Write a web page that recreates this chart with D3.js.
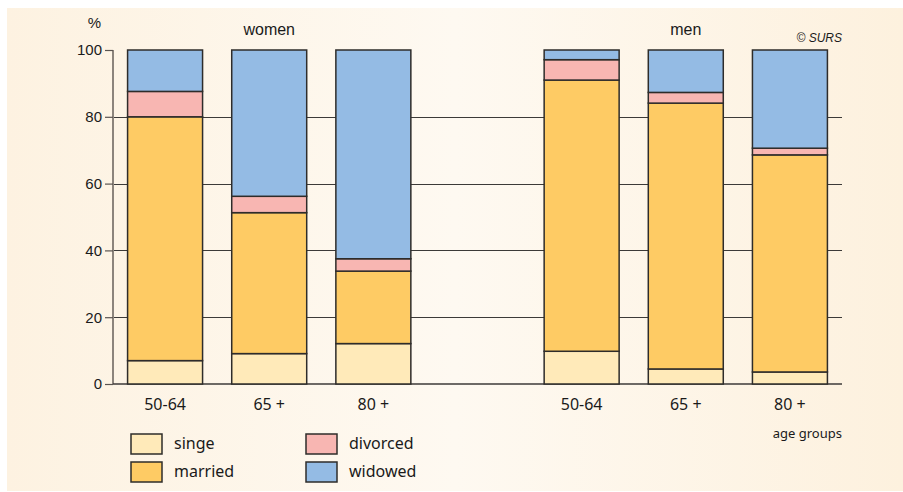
<!DOCTYPE html>
<html>
<head>
<meta charset="utf-8">
<script src="https://cdn.jsdelivr.net/npm/d3@7"></script>
<style>
  body { margin: 0; background: #fff; }
  svg { display: block; }
</style>
</head>
<body>
<svg id="chart"></svg>
<script>
// values, women then men
var groups = ["women", "men"];
var ageGroups = ["50-64", "65 +", "80 +"];
var statuses = ["singe", "married", "divorced", "widowed"];
var singe    = [7.0, 9.1, 12.1, 9.8, 4.5, 3.6];
var married  = [73.0, 42.2, 21.7, 81.2, 79.6, 65.0];
var divorced = [7.6, 4.9, 3.7, 6.1, 3.2, 2.0];
var widowed  = [12.4, 43.8, 62.5, 2.9, 12.7, 29.4];
var yTicks = [0, 20, 40, 60, 80, 100];

var colors = {
    singe: "#ffeab9",
    married: "#fecb64",
    divorced: "#f8b6b2",
    widowed: "#94bbe4"
};

var width = 903,
    height = 492;

var svg = d3.select("#chart")
    .attr("width", width)
    .attr("height", height);

var grad = svg.append("defs").append("linearGradient")
    .attr("id", "bg")
    .attr("x1", "0%").attr("x2", "100%");
grad.append("stop").attr("offset", "0%").attr("stop-color", "#fdf2e1");
grad.append("stop").attr("offset", "50%").attr("stop-color", "#fef9f1");
grad.append("stop").attr("offset", "100%").attr("stop-color", "#fdf1de");

svg.append("rect")
    .attr("x", 7).attr("y", 8)
    .attr("width", width - 7).attr("height", 483)
    .style("fill", "url(#bg)");

// one empty slot between the women and the men
var slots = [];
groups.forEach(function (g, gi) {
    if (gi > 0) slots.push("gap");
    ageGroups.forEach(function (a) { slots.push(g + "|" + a); });
});

var x = d3.scaleBand()
    .domain(slots)
    .range([113, 842])
    .paddingInner(0.28)
    .paddingOuter(0.14);

var y = d3.scaleLinear()
    .domain([0, 100])
    .range([384, 50]);

var rows = [];
groups.forEach(function (g, gi) {
    ageGroups.forEach(function (a, ai) {
        var i = gi * ageGroups.length + ai;
        rows.push({key: g + "|" + a, age: a, singe: singe[i], married: married[i], divorced: divorced[i], widowed: widowed[i]});
    });
});

var stacked = d3.stack().keys(statuses)(rows);

// grid lines
svg.append("g")
    .selectAll("line")
    .data(yTicks.filter(function (d) { return d > 0 && d < 100; }))
    .enter()
    .append("line")
    .attr("x1", 113).attr("x2", 842)
    .attr("y1", function (d) { return Math.round(y(d)) + 0.5; })
    .attr("y2", function (d) { return Math.round(y(d)) + 0.5; })
    .style("stroke", "#3c3a38")
    .style("stroke-width", 1.2);

// y axis
var yAxis = svg.append("g")
    .attr("transform", "translate(113,0)")
    .call(d3.axisLeft(y).tickValues(yTicks).tickSize(8).tickPadding(3));
yAxis.select(".domain")
    .attr("d", "M0," + y(100) + "V" + y(0))
    .style("stroke", "#8c847c")
    .style("stroke-width", 2);
yAxis.selectAll(".tick line").style("stroke", "#5a5450").style("stroke-width", 1.2);
yAxis.selectAll(".tick text")
    .style("font-family", "'Liberation Sans', Arial, sans-serif")
    .style("font-size", "15px")
    .style("fill", "#1a1a1a");

// baseline
svg.append("line")
    .attr("x1", 113).attr("x2", 842)
    .attr("y1", y(0)).attr("y2", y(0))
    .style("stroke", "#3c3a38")
    .style("stroke-width", 1.5);

// bars
svg.append("g")
    .selectAll("g")
    .data(stacked)
    .enter()
    .append("g")
    .style("fill", function (d) { return colors[d.key]; })
    .selectAll("rect")
    .data(function (d) { return d; })
    .enter()
    .append("rect")
    .attr("x", function (d) { return x(d.data.key); })
    .attr("y", function (d) { return y(d[1]); })
    .attr("width", x.bandwidth())
    .attr("height", function (d) { return y(d[0]) - y(d[1]); })
    .style("stroke", "#2e2c2a")
    .style("stroke-width", 1.5);

// age labels
svg.append("g")
    .selectAll("text")
    .data(rows)
    .enter()
    .append("text")
    .attr("x", function (d) { return x(d.key) + x.bandwidth() / 2; })
    .attr("y", 410)
    .attr("text-anchor", "middle")
    .style("font-family", "'Noto Sans', sans-serif")
    .style("font-size", "16px")
    .style("fill", "#1a1a1a")
    .text(function (d) { return d.age; });

// group headings
svg.append("g")
    .selectAll("text")
    .data(groups)
    .enter()
    .append("text")
    .attr("x", function (g) { return x(g + "|" + ageGroups[1]) + x.bandwidth() / 2; })
    .attr("y", 35)
    .attr("text-anchor", "middle")
    .style("font-family", "'Liberation Sans', Arial, sans-serif")
    .style("font-size", "16px")
    .style("fill", "#1a1a1a")
    .text(function (g) { return g; });

svg.append("text")
    .attr("x", 101).attr("y", 28)
    .attr("text-anchor", "end")
    .style("font-family", "'Liberation Sans', Arial, sans-serif")
    .style("font-size", "15px")
    .style("fill", "#1a1a1a")
    .text("%");

svg.append("text")
    .attr("x", 842).attr("y", 42)
    .attr("text-anchor", "end")
    .style("font-family", "'Liberation Sans', Arial, sans-serif")
    .style("font-style", "italic")
    .style("font-size", "12px")
    .style("fill", "#1a1a1a")
    .text("© SURS");

svg.append("text")
    .attr("x", 842).attr("y", 438)
    .attr("text-anchor", "end")
    .style("font-family", "'Noto Sans', sans-serif")
    .style("font-size", "13px")
    .style("fill", "#1a1a1a")
    .text("age groups");

// legend, two columns
var legend = svg.append("g")
    .selectAll("g")
    .data(statuses)
    .enter()
    .append("g")
    .attr("transform", function (d, i) {
        return "translate(" + (131 + Math.floor(i / 2) * 175) + "," + (434 + (i % 2) * 28) + ")";
    });

legend.append("rect")
    .attr("width", 31).attr("height", 20)
    .style("fill", function (d) { return colors[d]; })
    .style("stroke", "#2e2c2a")
    .style("stroke-width", 1.5);

legend.append("text")
    .attr("x", 43).attr("y", 15)
    .style("font-family", "'Noto Sans', sans-serif")
    .style("font-size", "16px")
    .style("fill", "#1a1a1a")
    .text(function (d) { return d; });
</script>
</body>
</html>
